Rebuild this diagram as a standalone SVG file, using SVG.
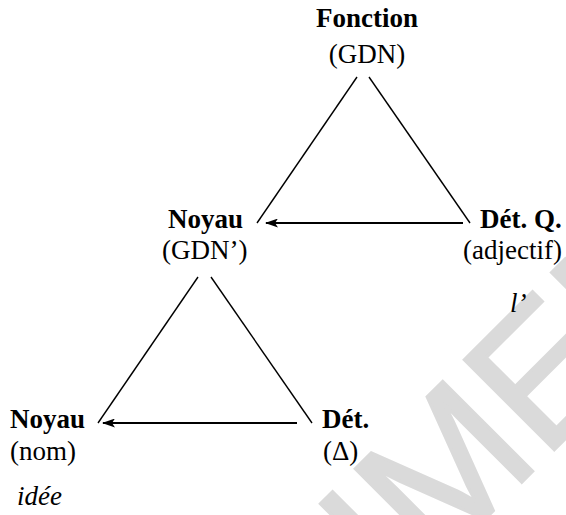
<svg xmlns="http://www.w3.org/2000/svg" width="566" height="515" viewBox="0 0 566 515">
<style>
text{font-family:"Liberation Serif","Times New Roman","DejaVu Serif",serif;font-size:27px;fill:#000}
.b{font-weight:bold}
.i{font-style:italic}
.ln{stroke:#000;stroke-width:1.4;fill:none}
.ar{stroke:#000;stroke-width:2.2;fill:none;marker-end:url(#ah)}
.wm{font-family:"Liberation Sans",Arial,sans-serif;font-size:185px;fill:#dadada;stroke:#dadada;stroke-width:3;stroke-linejoin:miter}
</style>
<defs>
<marker id="ah" markerWidth="13" markerHeight="9" refX="12" refY="4.5" orient="auto" markerUnits="userSpaceOnUse">
<path d="M0,0 L13,4.5 L0,9 L3,4.5 Z" fill="#000"/>
</marker>
</defs>
<rect width="566" height="515" fill="#fff"/>
<g id="watermark">
<text class="wm" transform="translate(42,962) rotate(-45)" x="0" y="0">SPECIMEN</text>
</g>
<g id="connectors">
<line class="ln" x1="357" y1="77" x2="257" y2="223"/>
<line class="ln" x1="369" y1="77" x2="470" y2="223"/>
<line class="ar" x1="463" y1="223" x2="266" y2="223"/>
<line class="ln" x1="198" y1="277" x2="98" y2="423"/>
<line class="ln" x1="211" y1="277" x2="312" y2="423"/>
<line class="ar" x1="297" y1="423" x2="103" y2="423"/>
</g>
<g id="n-fonction">
<text class="b" x="367" y="27" text-anchor="middle">Fonction</text>
<text x="367" y="63" text-anchor="middle">(GDN)</text>
</g>
<g id="n-noyau1">
<text class="b" x="168" y="228">Noyau</text>
<text x="162" y="259">(GDN’)</text>
</g>
<g id="n-detq">
<text class="b" x="480" y="228">Dét. Q.</text>
<text x="463" y="259">(adjectif)</text>
<text class="i" x="510" y="312">l’</text>
</g>
<g id="n-noyau2">
<text class="b" x="10" y="428">Noyau</text>
<text x="10" y="460">(nom)</text>
<text class="i" x="17" y="505">idée</text>
</g>
<g id="n-det">
<text class="b" x="322" y="428">Dét.</text>
<text x="323" y="460">(Δ)</text>
</g>
</svg>
